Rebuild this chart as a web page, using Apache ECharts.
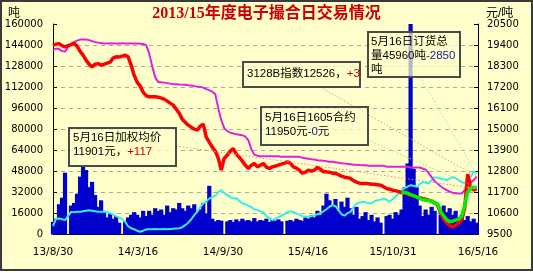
<!DOCTYPE html>
<html><head><meta charset="utf-8">
<script src="https://cdn.jsdelivr.net/npm/echarts@6/dist/echarts.min.js"></script>
<style>
html,body{margin:0;padding:0;background:#fff}
#wrap{position:relative;width:533px;height:273px}
#bg{position:absolute;left:0;top:0;width:533px;height:271px;box-sizing:border-box;border:2px solid #3a3a3a;background:#FFFFCC}
#c{position:absolute;left:0;top:0;width:533px;height:273px}
</style>
</head><body><div id="wrap"><div id="bg"></div><div id="c"></div></div>
<script>
// ---- data ----
const titleText = '2013/15年度电子撮合日交易情况';
const xTickLabels = ['13/8/30', '14/3/16', '14/9/30', '15/4/16', '15/10/31', '16/5/16'];
const dayStep = 7;           // one sample every 7 calendar days from 13/8/30
const xTickDays = 198;       // calendar days between tick labels
const leftAxis = { min: 0, max: 160000, interval: 16000, name: '吨' };
const rightAxis = { min: 9500, max: 20500, interval: 1100, name: '元/吨' };

// daily volume (吨), left axis
const volume = [
  9600, 12000, 23000, 28000, 47000, 0, 22000, 24000, 31000, 44000,
  52000, 49000, 36000, 40000, 30000, 21000, 26000, 18000, 13000, 16000,
  12000, 14000, 9000, 0, 10000, 13000, 15000, 17000, 15000, 13000,
  18000, 14000, 18000, 15000, 20000, 18000, 19000, 15000, 22000, 17000,
  20000, 19000, 24000, 20000, 18000, 22000, 20000, 23000, 17000, 19000,
  24000, 16000, 37000, 12000, 10000, 11000, 10500, 0, 10000, 11000,
  9500, 11500, 10000, 12000, 10500, 11000, 10000, 12500, 10000, 11000,
  10500, 12000, 9500, 11000, 10500, 11500, 10000, 0, 10500, 11000,
  10000, 12000, 11000, 10500, 13000, 12000, 14500, 13000, 18000, 15000,
  22000, 31000, 26000, 22000, 27000, 18000, 25000, 21000, 28000, 20000,
  15000, 21000, 12000, 14000, 17000, 11000, 15000, 10000, 13000, 9000,
  0, 14000, 15000, 12000, 17000, 15000, 19000, 36000, 54000, 162000,
  50000, 36000, 22000, 14000, 19000, 15000, 21000, 18000, 0, 15000,
  22000, 17000, 20000, 15000, 18000, 13000, 15000, 11000, 14000, 10000,
  12000, 9000
];
// open interest 订货总量 (吨), left axis
const openInterest = [
  6300, 12000, 12200, 11600, 10900, 13900, 17200, 17000, 17300, 17200,
  17700, 18100, 18500, 18100, 17700, 17300, 17200, 17300, 17000, 16200,
  15100, 13900, 12800, 11600, 9600, 6300, 4800, 4000, 2900, 2100,
  2900, 3800, 4000, 3900, 4100, 4000, 3950, 4100, 4000, 4200,
  4300, 4560, 4800, 5550, 7070, 8970, 11600, 14700, 17300, 20800,
  23600, 25300, 27200, 28400, 29500, 32200, 33700, 31400, 29900, 28400,
  27400, 27600, 25700, 23800, 23000, 21900, 20800, 19200, 18500, 17700,
  17000, 13900, 12400, 10900, 12000, 13200, 14300, 15400, 17000, 17700,
  17000, 16000, 15100, 13900, 13500, 13400, 13900, 14700, 15400, 16200,
  17700, 19200, 21100, 22300, 21500, 18500, 15400, 14300, 16200, 17200,
  20800, 23400, 24200, 24800, 24600, 23800, 23800, 25300, 26100, 26500,
  27400, 26500, 24900, 26800, 29100, 31000, 33700, 35200, 36400, 37500,
  37100, 36200, 38300, 39800, 39400, 38800, 41300, 43600, 43200, 42600,
  42100, 41300, 42400, 43600, 42800, 41300, 39800, 39000, 41300, 43800,
  48100, 45960
];
// weighted average price 加权均价 (元/吨), right axis
const avgPrice = [
  19397, 19449, 19475, 19370, 19308, 19370, 19423, 19485, 19344, 19083,
  18874, 18612, 18403, 18262, 18403, 18429, 18351, 18403, 18456, 18508,
  18717, 18785, 18770, 18821, 18874, 18785, 18351, 17828, 17462, 17253,
  16939, 16756, 16694, 16704, 16694, 16678, 16626, 16573, 16469, 16364,
  16260, 16051, 15842, 15528, 15371, 15214, 15110, 15005, 14953, 15162,
  15266, 14587, 14325, 14064, 13855, 13489, 12862, 13489, 13646, 13855,
  13996, 13698, 13541, 13332, 13123, 12950, 13123, 13212, 13034, 13123,
  13212, 13018, 12950, 13034, 13071, 13123, 13175, 13228, 13296, 13228,
  13034, 12966, 12862, 12705, 12757, 12862, 12809, 12862, 13018, 12914,
  12773, 12773, 12757, 12705, 12689, 12626, 12548, 12496, 12470, 12428,
  12313, 12234, 12182, 12166, 12166, 12156, 12130, 12130, 12104, 12077,
  11999, 11905, 11868, 11816, 11790, 11738, 11685, 11659, 11607, 11555,
  11502, 11466, 11424, 11382, 11345, 11293, 11241, 11162, 11032, 10614,
  10300, 10091, 9960, 9897, 9986, 10117, 10248, 10875, 12652, 11988,
  11816, 11901
];
// 3128B index (元/吨), right axis
const indexB = [
  19135, 19214, 19188, 19083, 19057, 19292, 19449, 19553, 19632, 19684,
  19695, 19695, 19658, 19606, 19553, 19527, 19501, 19485, 19485, 19490,
  19485, 19480, 19485, 19490, 19485, 19480, 19485, 19480, 19475, 19470,
  19460, 19397, 18978, 18299, 17724, 17462, 17462, 17436, 17410, 17384,
  17358, 17358, 17342, 17332, 17321, 17305, 17290, 17253, 17227, 17216,
  17175, 17096, 17044, 16965, 16835, 16103, 15476, 15057, 14900, 14822,
  14780, 14744, 14718, 14691, 14613, 14430, 13959, 13672, 13620, 13594,
  13594, 13594, 13594, 13594, 13594, 13594, 13557, 13557, 13557, 13557,
  13557, 13557, 13557, 13515, 13489, 13463, 13437, 13421, 13384, 13369,
  13348, 13332, 13306, 13296, 13280, 13254, 13228, 13212, 13191, 13175,
  13150, 13140, 13130, 13123, 13123, 13097, 13097, 13097, 13097, 13097,
  13097, 13045, 13045, 13045, 13045, 13045, 13045, 13045, 13045, 13000,
  13000, 13000, 13000, 12950, 12888, 12705, 12496, 12287, 12156, 12025,
  11905, 11816, 11738, 11685, 11659, 11643, 11643, 11816, 12000, 12234,
  12339, 12526
];
// 1605 contract (元/吨), right axis, starts at sample index c1605Start
const c1605Start = 116;
const contract1605 = [
  11643, 11711, 11659, 11581, 11529, 11466, 11398, 11319, 11293, 11277,
  11241, 11136, 11110, 10700, 10483, 10274, 10169, 10195, 10248, 10300,
  10457, 11032, 11711, 11921, 11973, 11950
];

// ---- build ----
const toPairs = (arr, start) => arr.map((v, i) => [(start + i) * dayStep, v]);
const chart = echarts.init(document.getElementById('c'), null, { renderer: 'canvas' });
const F = "'Liberation Sans','Noto Sans CJK SC',sans-serif";
const AX = "'DejaVu Sans','Noto Sans CJK SC',sans-serif";

chart.setOption({
  animation: false,
  backgroundColor: 'transparent',
  title: {
    text: titleText, left: 'center', top: 6, padding: 0,
    textStyle: { fontSize: 16, fontWeight: 'bold', color: '#cc0000',
      fontFamily: "'Liberation Serif','Noto Sans CJK SC',serif" }
  },
  grid: { left: 53, right: 55, top: 24, bottom: 38.5, containLabel: false, outerBoundsMode: 'none' },
  xAxis: {
    type: 'value', min: 0, max: (xTickLabels.length - 1) * xTickDays,
    interval: xTickDays,
    axisLine: { show: true, lineStyle: { color: '#000', width: 1 } },
    axisTick: { show: false },
    splitLine: { show: false },
    axisLabel: { margin: 13, fontSize: 10.5, fontFamily: AX, color: '#000',
      showMinLabel: true, showMaxLabel: true,
      formatter: v => xTickLabels[Math.round(v / xTickDays)] }
  },
  yAxis: [{
    type: 'value', min: leftAxis.min, max: leftAxis.max, interval: leftAxis.interval,
    position: 'left',
    axisLine: { show: true, lineStyle: { color: '#000', width: 1 } },
    axisTick: { show: true, inside: true, length: 4, lineStyle: { color: '#000' } },
    splitLine: { show: true, showMaxLine: false, showMinLine: false,
      lineStyle: { color: '#a8a8a0', type: [4, 4], width: 1 } },
    axisLabel: { margin: 10, fontSize: 10, fontFamily: AX, color: '#000', formatter: v => String(v) }
  }, {
    type: 'value', min: rightAxis.min, max: rightAxis.max, interval: rightAxis.interval,
    position: 'right',
    axisLine: { show: true, lineStyle: { color: '#000', width: 1 } },
    axisTick: { show: true, inside: true, length: 4, lineStyle: { color: '#000' } },
    splitLine: { show: false },
    axisLabel: { margin: 9, fontSize: 10, fontFamily: AX, color: '#000', formatter: v => String(v) }
  }],
  series: [
    { name: '成交量', type: 'bar', xAxisIndex: 0, yAxisIndex: 0, barWidth: 4.2,
      itemStyle: { color: '#0000cc' }, data: toPairs(volume, 0) },
    { name: '订货总量', type: 'line', yAxisIndex: 0, showSymbol: false,
      lineStyle: { color: '#33eeee', width: 2 }, data: toPairs(openInterest, 0) },
    { name: '3128B指数', type: 'line', yAxisIndex: 1, showSymbol: false,
      lineStyle: { color: '#e020e0', width: 2 }, data: toPairs(indexB, 0) },
    { name: '加权均价', type: 'line', yAxisIndex: 1, showSymbol: false,
      lineStyle: { color: '#ff0000', width: 3.5 }, data: toPairs(avgPrice, 0) },
    { name: '1605合约', type: 'line', yAxisIndex: 1, showSymbol: false,
      lineStyle: { color: '#00ee00', width: 3.5 }, data: toPairs(contract1605, c1605Start) }
  ]
});

// ---- annotations ----
const lastDay = (avgPrice.length - 1) * dayStep;
const pR = chart.convertToPixel({ xAxisIndex: 0, yAxisIndex: 1 }, [lastDay, avgPrice[avgPrice.length - 1]]);
const pM = chart.convertToPixel({ xAxisIndex: 0, yAxisIndex: 1 }, [lastDay, indexB[indexB.length - 1]]);
const pG = chart.convertToPixel({ xAxisIndex: 0, yAxisIndex: 1 }, [lastDay, contract1605[contract1605.length - 1]]);
const pC = chart.convertToPixel({ xAxisIndex: 0, yAxisIndex: 0 }, [lastDay, openInterest[openInterest.length - 1]]);

const boxFill = 'rgba(255,255,204,0.72)';
const boxStroke = '#4a4a4a';
const tf = "11.5px " + F;
function box(x, y, w, h) {
  return { type: 'rect', z: 100, shape: { x, y, width: w, height: h },
    style: { fill: boxFill, stroke: boxStroke, lineWidth: 2 } };
}
function txt(x, y, text, rich) {
  return { type: 'text', z: 101, style: { x, y, text, font: tf, fill: '#000',
    textVerticalAlign: 'middle', verticalAlign: 'middle', rich: rich || {} } };
}
const rich = {
  k: { fill: '#000', color: '#000', font: tf },
  r: { fill: '#cc0000', color: '#cc0000', font: tf },
  b: { fill: '#1a1aa0', color: '#1a1aa0', font: tf }
};
function lead(x1, y1, p, color) {
  return { type: 'line', z: 90, shape: { x1, y1, x2: p[0], y2: p[1] },
    style: { stroke: color, lineWidth: 1, lineDash: [1.5, 2] } };
}
chart.setOption({
  graphic: [
    { type: 'text', z: 101, style: { x: 8, y: 14, text: leftAxis.name, font: "12px " + F, fill: '#000', textVerticalAlign: 'middle', verticalAlign: 'middle' } },
    { type: 'text', z: 101, style: { x: 486, y: 14, text: rightAxis.name, font: "12px " + F, fill: '#000', textVerticalAlign: 'middle', verticalAlign: 'middle' } },
    lead(176, 146, pR, '#e09090'),
    lead(320, 87, pM, '#e09090'),
    lead(368, 140, pG, '#a0e090'),
    lead(420, 77, pC, '#90e0c8'),
    box(69, 128, 107, 38),
    txt(73, 138, '5月16日加权均价'),
    txt(73, 152, '{k|' + avgPrice[avgPrice.length - 1] + '元，}{r|+117}', rich),
    box(243, 62, 117, 25),
    txt(247, 74, '{k|3128B指数' + indexB[indexB.length - 1] + '，}{r|+3}', rich),
    box(261, 107, 107, 38),
    txt(265, 118, '5月16日1605合约'),
    txt(265, 132, '{k|' + contract1605[contract1605.length - 1] + '元-}{b|0}{k|元}', rich),
    box(368, 32, 92, 45),
    txt(371, 42, '5月16日订货总'),
    txt(371, 56, '{k|量' + openInterest[openInterest.length - 1] + '吨}{b|-2850}', rich),
    txt(371, 70, '吨')
  ]
});
</script>
</body></html>
